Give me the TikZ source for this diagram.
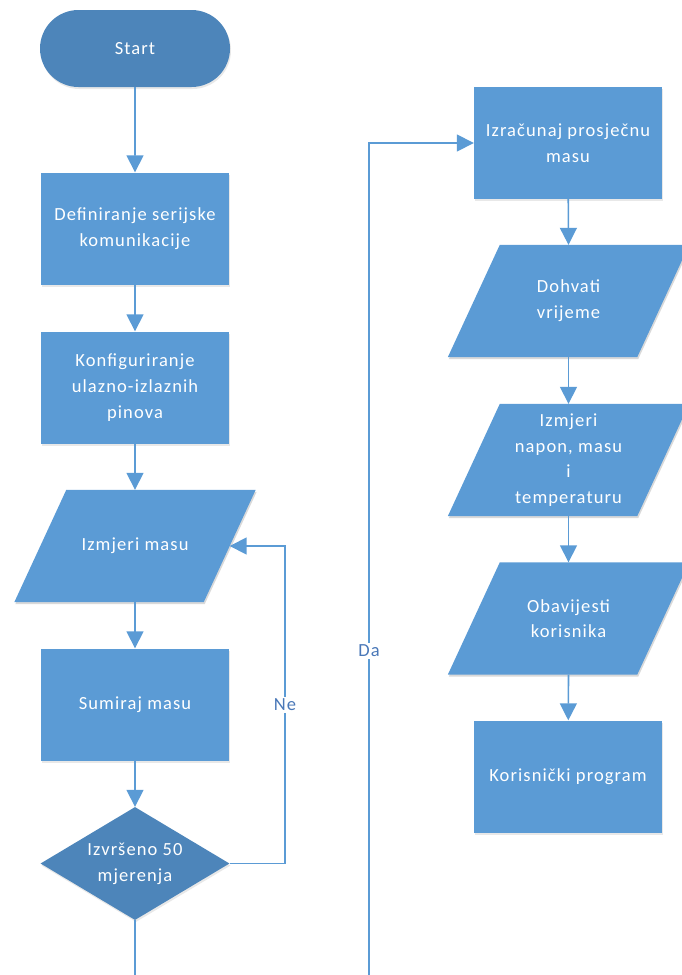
\documentclass[tikz,border=0pt]{standalone}
\usepackage{fontspec}
\setmainfont[LetterSpace=6]{Carlito}
\usetikzlibrary{shapes.geometric,shapes.misc,arrows.meta,shadows,calc}
\definecolor{boxblue}{HTML}{5B9BD5}
\definecolor{darkblue}{HTML}{4D85BA}
\definecolor{lineblue}{HTML}{5B9BD5}
\definecolor{labelblue}{HTML}{4A78B8}
\pgfdeclarelayer{background}
\pgfsetlayers{background,main}
\newcommand\paraio[1]{%
  \begin{pgfonlayer}{background}
    \fill[black, opacity=0.15] ($(#1.south west)+(-25,2)$) -- ($(#1.south east)+(-25,2)$) -- ($(#1.north east)+(27,2)$) -- ($(#1.north west)+(27,2)$) -- cycle;
    \fill[boxblue] ($(#1.south west)+(-26,0)$) -- ($(#1.south east)+(-26,0)$) -- ($(#1.north east)+(26,0)$) -- ($(#1.north west)+(26,0)$) -- cycle;
  \end{pgfonlayer}}
\begin{document}
\begin{tikzpicture}[x=1pt,y=-1pt,
  every node/.style={font=\fontsize{18.5}{25.7}\selectfont, text=white, align=center, inner sep=0pt},
  shade/.style={drop shadow={opacity=0.18, shadow xshift=1pt, shadow yshift=-2pt}},
  procbox/.style={rectangle, fill=boxblue, minimum width=188pt, minimum height=112pt, shade},
  iobox/.style={rectangle, minimum width=189pt, minimum height=112pt},
  termbox/.style={rounded rectangle, fill=darkblue, minimum width=190pt, minimum height=77pt, shade},
  decbox/.style={diamond, fill=darkblue, minimum width=189pt, minimum height=113pt, aspect=1.67, shade},
  conn/.style={draw=lineblue, line width=1.6pt, -{Triangle[width=17pt,length=17pt]}},
  plain/.style={draw=lineblue, line width=1.6pt},
  lbl/.style={text=labelblue, fill=white, inner sep=2pt}
]
\useasboundingbox (0,0) rectangle (681,975);
\begin{scope}
\clip (0,0) rectangle (681,975);
% left column
\node[termbox] (start) at (135,48.5) {Start};
\node[procbox] (ser) at (135,228.5) {Definiranje serijske\\komunikacije};
\node[procbox] (pin) at (135,387.5) {Konfiguriranje\\ulazno-izlaznih\\pinova};
\node[iobox] (mas) at (135,546) {Izmjeri masu};
\paraio{mas}
\node[procbox] (sum) at (135,704.5) {Sumiraj masu};
\node[decbox] (dec) at (135,863.5) {Izvršeno 50\\mjerenja};
\coordinate (decEnd) at (135,975);
% right column
\node[procbox] (avg) at (568,143) {Izračunaj prosječnu\\masu};
\node[iobox] (time) at (568.5,301) {Dohvati\\vrijeme};
\paraio{time}
\node[iobox] (meas) at (568.5,460) {Izmjeri\\napon, masu\\i\\temperaturu};
\paraio{meas}
\node[iobox] (notify) at (568.5,618.5) {Obavijesti\\korisnika};
\paraio{notify}
\node[procbox] (user) at (568,776.5) {Korisnički program};
\coordinate (daStart) at (369,975);
\coordinate (neCorner) at (285,863.5);

\path[conn] (start) -- (ser);
\path[conn] (ser) -- (pin);
\path[conn] (pin) -- (mas.north);
\path[conn] (mas.south) -- (sum);
\path[conn] (sum) -- (dec);
\path[plain] (dec.south) -- (decEnd);
\path[conn] (dec.east) -- (neCorner) |- node[lbl, pos=0.25] {Ne} (mas.east);

\path[conn] (daStart) |- node[lbl, pos=0.195] {Da} (avg.west);
\path[conn] (avg) -- (time.north);
\path[conn] (time.south) -- (meas.north);
\path[conn] (meas.south) -- (notify.north);
\path[conn] (notify.south) -- (user);
\end{scope}
\end{tikzpicture}
\end{document}
